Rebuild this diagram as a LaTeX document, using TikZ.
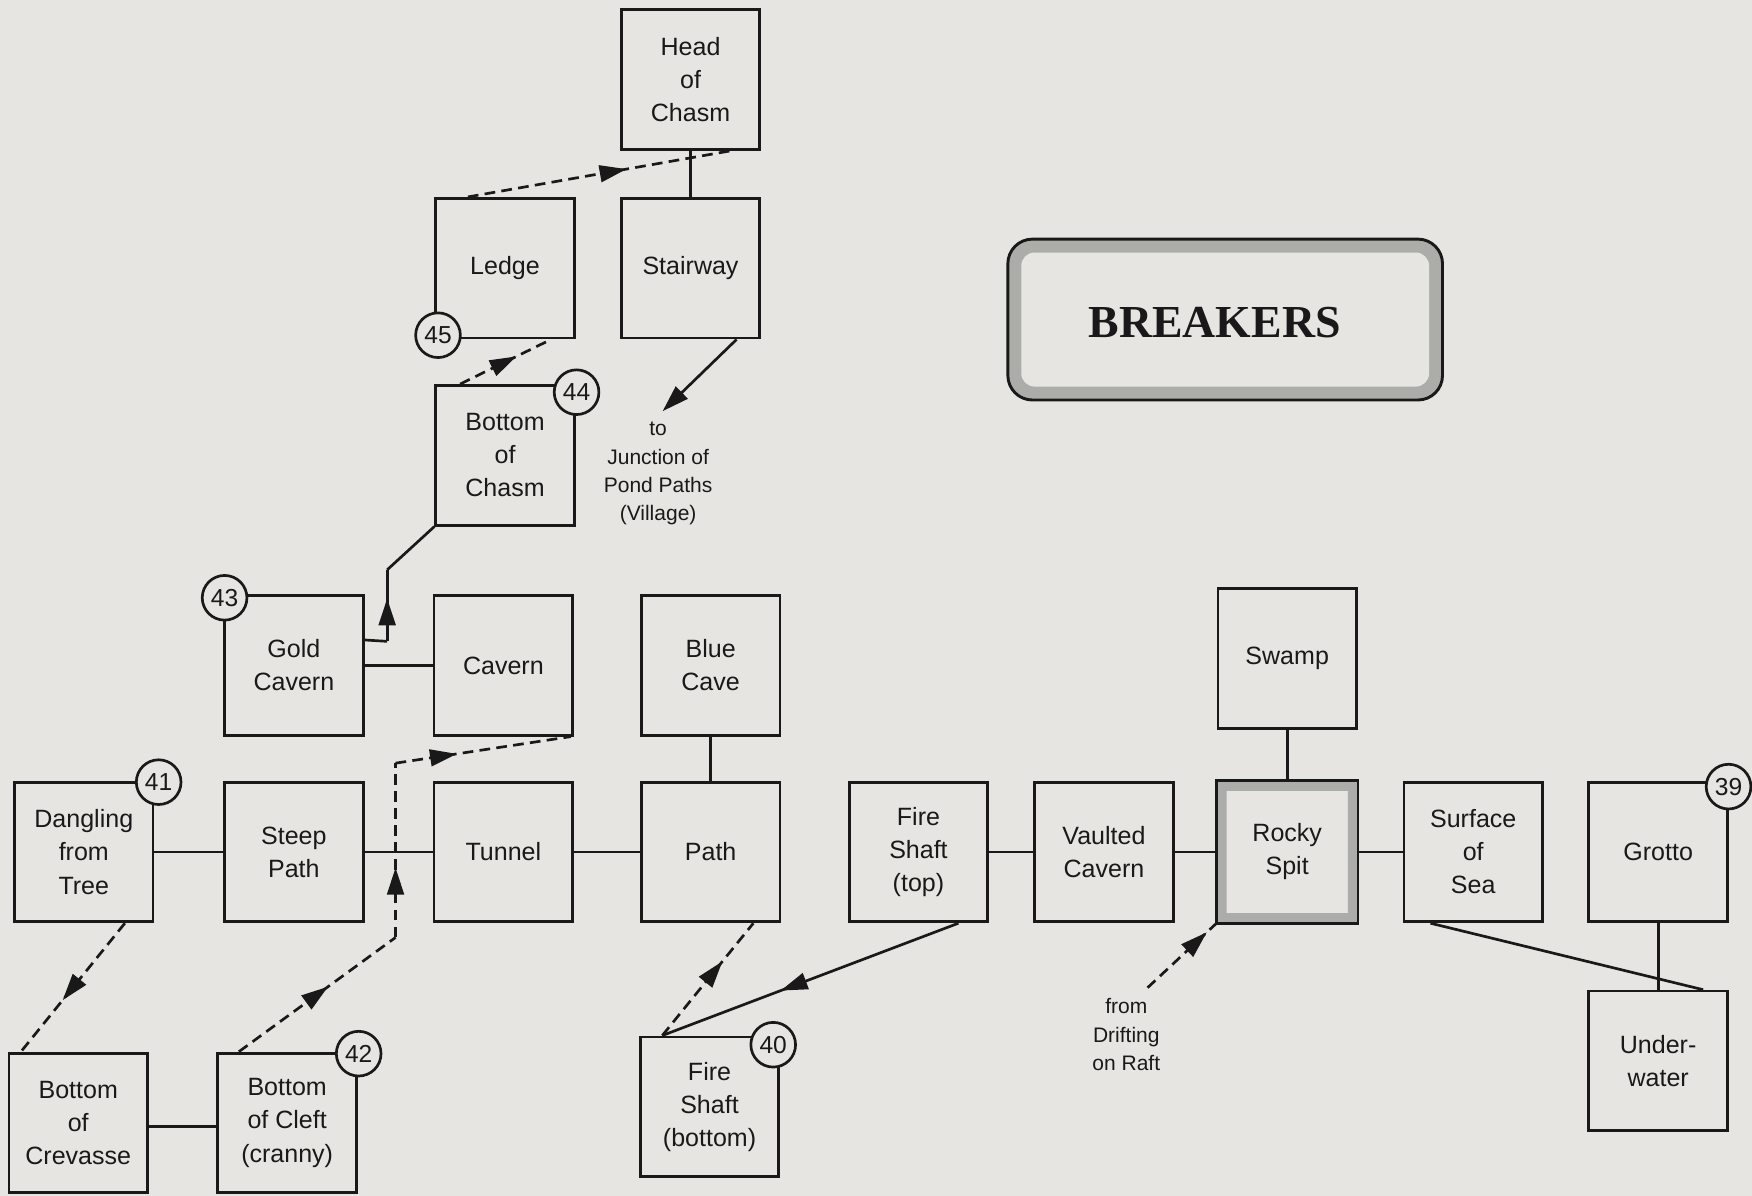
\documentclass[tikz,border=0pt]{standalone}
\usepackage{fontspec}
\setmainfont{Liberation Sans}
\newfontfamily\brkfont{Liberation Serif}
\usetikzlibrary{arrows.meta,calc,decorations.markings}
\definecolor{bg}{RGB}{230,229,225}
\definecolor{ink}{RGB}{25,25,25}
\definecolor{band}{RGB}{172,172,168}
\newcommand\rmlabelfont{\fontsize{11.2}{14.8}\selectfont}
\newcommand\numlabelfont{\fontsize{11}{12}\selectfont}
\newcommand\notelabelfont{\fontsize{9.4}{12.7}\selectfont}
\tikzset{
  room/.style={draw=ink, line width=1.25pt, minimum width=62pt, minimum height=62.5pt, inner sep=0pt, align=center, font=\rmlabelfont, text=ink},
  numc/.style={circle, draw=ink, line width=1.2pt, fill=bg, minimum size=20pt, inner sep=0pt, font=\numlabelfont, text=ink},
  link/.style={draw=ink, line width=1.2pt},
  dlink/.style={link, dash pattern=on 4.8pt off 2.8pt},
  midarrow/.style={postaction={decorate}, decoration={markings, mark=at position #1 with {\arrow{Triangle[length=12pt,width=7.5pt]}}}},
  endarrow/.style={-{Triangle[length=12pt,width=7.5pt]}},
  note/.style={align=center, font=\notelabelfont, text=ink, inner sep=0pt},
}
\begin{document}
\begin{tikzpicture}[x=0.5pt,y=-0.5pt]
\useasboundingbox (0,0) rectangle (1568,1070);
\fill[bg] (0,0) rectangle (1568,1070);

% rooms
\node[room] (head) at (618,71) {Head\\of\\Chasm};
\node[room] (stair) at (618,240) {Stairway};
\node[room] (ledge) at (452,240) {Ledge};
\node[room] (bchasm) at (452,407.5) {Bottom\\of\\Chasm};
\node[room] (gold) at (263,595.5) {Gold\\Cavern};
\node[room] (cavern) at (450.5,595.5) {Cavern};
\node[room] (blue) at (636,595.5) {Blue\\Cave};
\node[room] (dangle) at (75,762.5) {Dangling\\from\\Tree};
\node[room] (steep) at (263,762.5) {Steep\\Path};
\node[room] (tunnel) at (450.5,762.5) {Tunnel};
\node[room] (path) at (636,762.5) {Path};
\node[room] (fstop) at (822,762.5) {Fire\\Shaft\\(top)};
\node[room] (vaulted) at (988,762.5) {Vaulted\\Cavern};
\node[room] (rocky) at (1152,762.5) {Rocky\\Spit};
\node[room] (surface) at (1318.5,762.5) {Surface\\of\\Sea};
\node[room] (grotto) at (1484,762.5) {Grotto};
\node[room] (swamp) at (1152,589.5) {Swamp};
\node[room] (under) at (1484,949.5) {Under-\\water};
\node[room] (crev) at (70,1005) {Bottom\\of\\Crevasse};
\node[room] (cleft) at (257,1005) {Bottom\\of Cleft\\(cranny)};
\node[room] (fsbot) at (635,990.5) {Fire\\Shaft\\(bottom)};

% Rocky Spit shaded border
\fill[band, even odd rule] (rocky.north west) rectangle (rocky.south east)
  ($(rocky.north west)+(9,9)$) rectangle ($(rocky.south east)+(-9,-9)$);
\draw[link] (rocky.north west) rectangle (rocky.south east);

% title
\fill[band, rounded corners=11pt] (902,214) rectangle (1291,358);
\fill[bg, rounded corners=6pt] (914,226) rectangle (1279,346);
\node[draw=ink, line width=1.3pt, rounded corners=11pt, minimum width=194.5pt, minimum height=72pt, inner sep=0pt] (title) at (1096.5,286) {};
\node[font=\brkfont\bfseries\fontsize{20.5}{23}\selectfont, text=ink, inner sep=0pt] (titletext) at (1087,289) {BREAKERS};

% notes
\node[note] (junc) at (589,424) {to\\Junction of\\Pond Paths\\(Village)};
\coordinate (juncend) at (593,368);
\node[note] (raft) at (1008,926) {from\\Drifting\\on Raft};
\coordinate (raftstart) at (1027,884);

% solid links
\draw[link] (head) -- (stair);
\draw[link] (gold) -- (cavern);
\draw[link] (blue) -- (path);
\draw[link] (dangle) -- (steep);
\draw[link] (steep) -- (tunnel);
\draw[link] (tunnel) -- (path);
\draw[link] (fstop) -- (vaulted);
\draw[link] (vaulted) -- (rocky);
\draw[link] (rocky) -- (surface);
\draw[link] (swamp) -- (rocky);
\draw[link] (grotto) -- (under);
\draw[link] ($(crev.north east)+(0,67)$) -- ($(cleft.north west)+(0,67)$);
\draw[link] ($(surface.south west)+(25,0)$) -- ($(under.north east)+(-23,0)$);

% Stairway to junction
\draw[link, endarrow] ($(stair.south east)+(-22,0)$) -- (juncend);

% Gold Cavern up to Bottom of Chasm
\coordinate (g1) at (346.5,574);
\coordinate (g2) at (346.5,510);
\draw[link] ($(gold.north east)+(0,41)$) -- (g1);
\draw[link, midarrow=0.6] (g1) -- (g2);
\draw[link] (g2) -- (bchasm.south west);

% Fire shaft top to bottom
\draw[link, midarrow=0.6] ($(fstop.south west)+(99,0)$) -- ($(fsbot.north west)+(21,0)$);

% dashed links
\draw[dlink, midarrow=0.6] ($(ledge.north west)+(30,0)$) -- ($(head.south east)+(-26,0)$);
\draw[dlink, midarrow=0.62] ($(bchasm.north west)+(23,0)$) -- ($(ledge.south east)+(-22,0)$);
\draw[dlink, midarrow=0.6] ($(dangle.south west)+(100,0)$) -- ($(crev.north west)+(12,0)$);
\coordinate (d1) at (354,839);
\coordinate (d2) at (354,683);
\draw[dlink, midarrow=0.57] ($(cleft.north west)+(20,0)$) -- (d1);
\draw[dlink, midarrow=0.4] (d1) -- (d2);
\draw[dlink, midarrow=0.35] (d2) -- ($(cavern.south east)+(-3,0)$);
\draw[dlink, midarrow=0.66] ($(fsbot.north west)+(21,0)$) -- ($(path.south east)+(-25,0)$);
\draw[dlink, midarrow=0.86] (raftstart) -- (rocky.south west);

% number circles
\node[numc] (n45) at (392,300) {45};
\node[numc] (n44) at (516,351) {44};
\node[numc] (n43) at (201,535) {43};
\node[numc] (n41) at (142,700) {41};
\node[numc] (n42) at (321,943) {42};
\node[numc] (n40) at (692,935) {40};
\node[numc] (n39) at (1547,704) {39};
\end{tikzpicture}
\end{document}
